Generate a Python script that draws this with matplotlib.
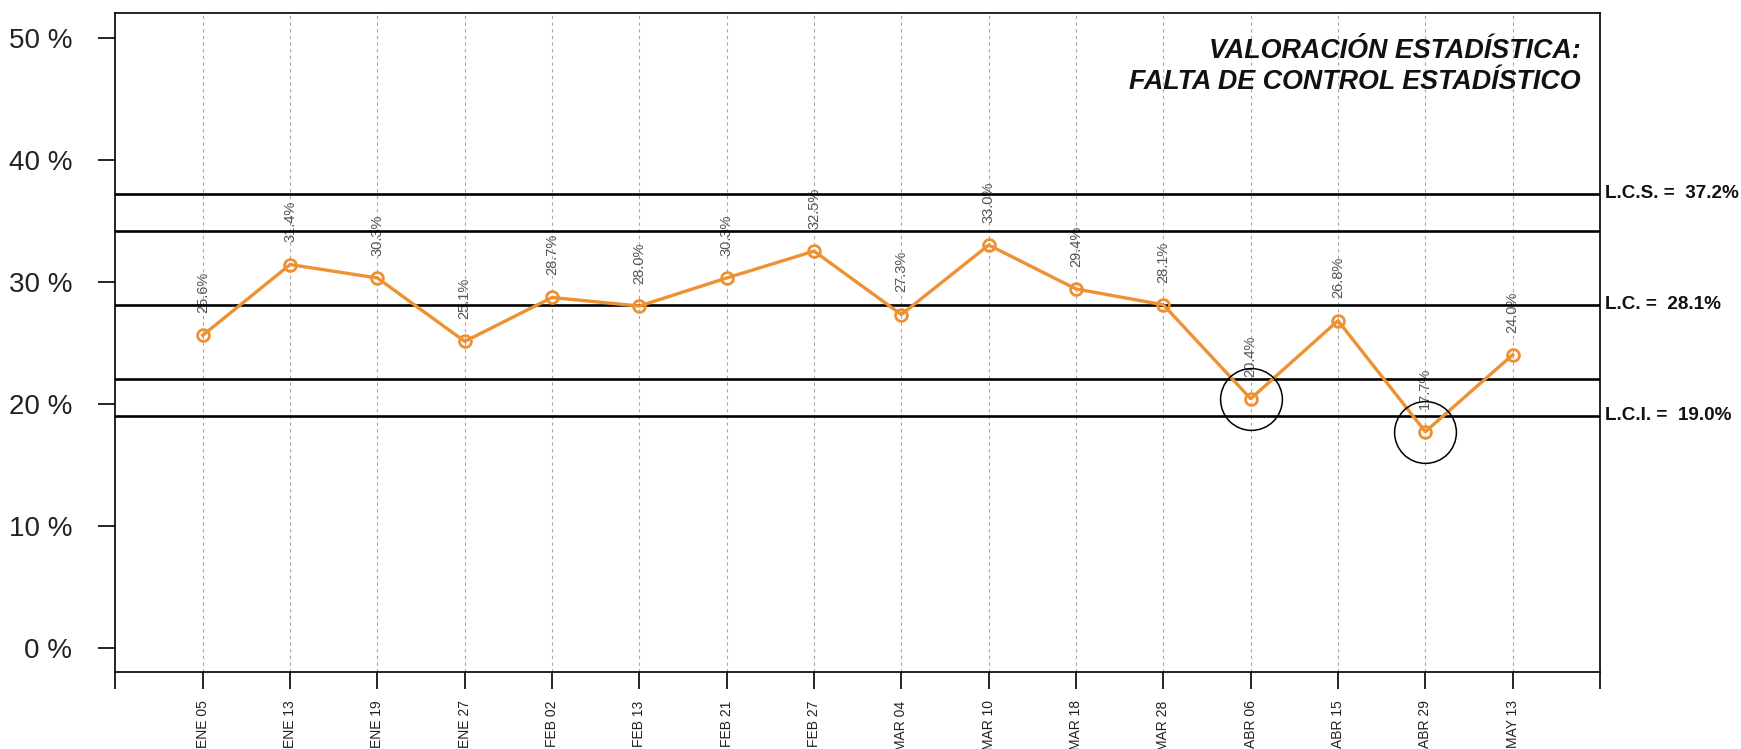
import matplotlib
matplotlib.use("Agg")
import matplotlib.pyplot as plt

plt.rcParams['font.family'] = ['Liberation Sans', 'DejaVu Sans']

# ---- data ----
categories = ["ENE 05", "ENE 13", "ENE 19", "ENE 27", "FEB 02", "FEB 13", "FEB 21", "FEB 27",
              "MAR 04", "MAR 10", "MAR 18", "MAR 28", "ABR 06", "ABR 15", "ABR 29", "MAY 13"]
values = [25.6, 31.4, 30.3, 25.1, 28.7, 28.0, 30.3, 32.5,
          27.3, 33.0, 29.4, 28.1, 20.4, 26.8, 17.7, 24.0]
value_labels = ["25.6%", "31.4%", "30.3%", "25.1%", "28.7%", "28.0%", "30.3%", "32.5%",
                "27.3%", "33.0%", "29.4%", "28.1%", "20.4%", "26.8%", "17.7%", "24.0%"]
flagged = ["ABR 06", "ABR 29"]
lcs, lc, lci = 37.2, 28.1, 19.0
warn_upper, warn_lower = 34.17, 22.03
limit_labels = {"L.C.S. =  37.2%": 37.2, "L.C. =  28.1%": 28.1, "L.C.I. =  19.0%": 19.0}
yticks = [0, 10, 20, 30, 40, 50]
ytick_labels = ["0 %", "10 %", "20 %", "30 %", "40 %", "50 %"]
title = "VALORACIÓN ESTADÍSTICA:\nFALTA DE CONTROL ESTADÍSTICO"

orange = "#EE9133"

fig = plt.figure(figsize=(17.41, 7.49), dpi=100)
ax = fig.add_axes([0.0663, 0.1028, 0.8527, 0.8795])

x = list(range(1, len(categories) + 1))
n = len(categories)

# vertical dashed grid
for xi in x:
    ax.axvline(xi, color="#a8a8a8", lw=0.8, dashes=(3, 3), zorder=1)

# point labels (drawn under control lines)
for xi, v, lab in zip(x, values, value_labels):
    ax.annotate(lab, (xi, v), xytext=(0, 16), textcoords="offset points",
                rotation=90, ha="center", va="bottom", fontsize=10.5,
                color="#555555", zorder=2)

# control lines
for yv in [lcs, warn_upper, lc, warn_lower, lci]:
    ax.axhline(yv, color="black", lw=1.9, zorder=3)

# series
ax.plot(x, values, color=orange, lw=2.4, marker="o", ms=8.5, mfc="none",
        mec=orange, mew=2.0, zorder=4)

# flagged circles
for cat in flagged:
    i = categories.index(cat)
    ax.plot([x[i]], [values[i]], marker="o", ms=44.5, mfc="none", mec="black",
            mew=1.1, zorder=5)

# limit labels on the right
for txt, yv in limit_labels.items():
    ax.annotate(txt, xy=(1.0, yv), xycoords=("axes fraction", "data"),
                xytext=(3.5, 0), textcoords="offset points", ha="left", va="center",
                fontsize=13.6, fontweight="bold", color="#111111", annotation_clip=False)

# title
ax.text(0.987, 0.962, title, transform=ax.transAxes, ha="right", va="top",
        fontsize=19.4, fontweight="bold", fontstyle="italic", linespacing=1.25,
        color="#111111", zorder=6)

ax.set_xlim(0, n + 1)
ax.set_ylim(-2, 52)
ax.set_xticks(list(range(0, n + 2)))
ax.set_xticklabels([""] + categories + [""], rotation=90, fontsize=10, color="#222222")
ax.set_yticks(yticks)
ax.set_yticklabels(ytick_labels, fontsize=20, color="#222222")
ax.tick_params(axis="x", length=12, width=1.2, pad=8.5, direction="out")
ax.tick_params(axis="y", length=12, width=1.2, pad=19, direction="out")
for sp in ax.spines.values():
    sp.set_linewidth(1.2)

fig.savefig("out.png", dpi=100)
